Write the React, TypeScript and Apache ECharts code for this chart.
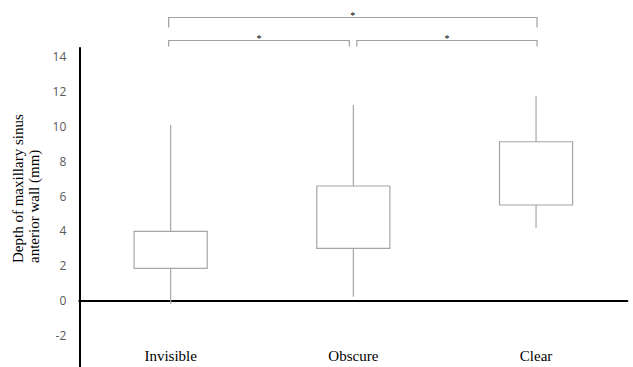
import React, { useEffect, useRef } from "react";
import * as echarts from "echarts";

const categories = ["Invisible", "Obscure", "Clear"];
const whiskerLow = [-0.19, 0.23, 4.19];
const boxLow = [1.86, 3.0, 5.49];
const boxHigh = [3.98, 6.58, 9.12];
const whiskerHigh = [10.08, 11.23, 11.74];

const yMin = -4;
const yMax = 14.5;
const yInterval = 2;

const bracketFrom = [0, 1, 0];
const bracketTo = [1, 2, 2];
const bracketLevel = [14.93, 14.93, 16.25];
const bracketLabel = ["*", "*", "*"];

const yAxisTitle = "Depth of maxillary sinus\nanterior wall (mm)";

export default function App() {
  const ref = useRef<HTMLDivElement>(null);

  useEffect(() => {
    if (!ref.current) return;
    const chart = echarts.init(ref.current, undefined, { renderer: "svg" });

    const boxData = categories.map((_, i) => [i, whiskerLow[i], boxLow[i], boxHigh[i], whiskerHigh[i]]);
    const bracketData = bracketFrom.map((f, i) => [f, bracketTo[i], bracketLevel[i], i]);

    const option: any = {
      animation: false,
      backgroundColor: "#ffffff",
      grid: { left: 79.3, right: 5.6, top: 48, bottom: 9.6, containLabel: false, outerBoundsMode: "none" },
      xAxis: [
        {
          type: "category",
          data: categories,
          boundaryGap: true,
          axisLine: { onZero: true, lineStyle: { color: "#000", width: 2 } },
          axisTick: { show: false },
          splitLine: { show: false },
          axisLabel: { show: false },
        },
        {
          type: "category",
          data: categories,
          position: "bottom",
          boundaryGap: true,
          axisLine: { show: false, onZero: false },
          axisTick: { show: false },
          splitLine: { show: false },
          axisLabel: {
            inside: true,
            margin: 7,
            color: "#000",
            fontFamily: "Liberation Serif",
            fontSize: 15,
          },
        },
      ],
      yAxis: {
        type: "value",
        min: yMin,
        max: yMax,
        interval: yInterval,
        axisLine: { show: true, onZero: false, lineStyle: { color: "#000", width: 2 } },
        axisTick: { show: false },
        splitLine: { show: false },
        axisLabel: {
          showMaxLabel: false,
          showMinLabel: false,
          margin: 13,
          color: "#595959",
          fontFamily: "Open Sans",
          fontSize: 12,
        },
      },
      graphic: [
        {
          type: "text",
          x: 9.5,
          y: 263,
          rotation: Math.PI / 2,
          style: {
            text: yAxisTitle,
            fontFamily: "Liberation Serif",
            fontSize: 15,
            lineHeight: 16,
            fill: "#000",
            align: "left",
            verticalAlign: "top",
          },
        },
      ],
      series: [
        {
          type: "custom",
          name: "box",
          xAxisIndex: 0,
          data: boxData,
          encode: { x: 0, y: [1, 2, 3, 4] },
          renderItem: (params: any, api: any) => {
            const idx = api.value(0);
            const pLow = api.coord([idx, api.value(1)]);
            const pQ1 = api.coord([idx, api.value(2)]);
            const pQ3 = api.coord([idx, api.value(3)]);
            const pHigh = api.coord([idx, api.value(4)]);
            const band = api.size([1, 0])[0];
            const w = band * 0.4;
            const cx = pLow[0];
            return {
              type: "group",
              children: [
                {
                  type: "line",
                  shape: { x1: cx, y1: pHigh[1], x2: cx, y2: pLow[1] },
                  style: { stroke: "#a6a6a6", lineWidth: 1.2 },
                },
                {
                  type: "rect",
                  shape: { x: cx - w / 2, y: pQ3[1], width: w, height: pQ1[1] - pQ3[1] },
                  style: { fill: "#ffffff", stroke: "#a6a6a6", lineWidth: 1.2 },
                },
              ],
            };
          },
        },
        {
          type: "custom",
          name: "brackets",
          xAxisIndex: 0,
          data: bracketData,
          clip: false,
          encode: { x: [0, 1], y: 2 },
          renderItem: (params: any, api: any) => {
            const from = api.value(0);
            const to = api.value(1);
            const level = api.value(2);
            const me = api.value(3);
            const sharedStart = bracketTo.some((t, j) => j !== me && t === from && bracketLevel[j] === level);
            const sharedEnd = bracketFrom.some((f, j) => j !== me && f === to && bracketLevel[j] === level);
            const a = api.coord([from, level]);
            const b = api.coord([to, level]);
            const x1 = a[0] + (sharedStart ? 3.5 : -2);
            const x2 = b[0] + (sharedEnd ? -4 : 1);
            const y = a[1];
            const isTop = !bracketLevel.some((l) => l > level);
            const tick = isTop ? 10 : 6;
            return {
              type: "group",
              children: [
                {
                  type: "polyline",
                  shape: { points: [[x1, y + tick], [x1, y], [x2, y], [x2, y + tick]] },
                  style: { stroke: "#a0a0a0", lineWidth: 1.2, fill: "none" },
                },
                {
                  type: "text",
                  x: (x1 + x2) / 2,
                  y: y - 2,
                  style: {
                    text: bracketLabel[me],
                    fontFamily: "Liberation Serif",
                    fontSize: 10,
                    fill: "#000",
                    align: "center",
                    verticalAlign: "middle",
                  },
                },
              ],
            };
          },
        },
      ],
    };

    chart.setOption(option);
    return () => chart.dispose();
  }, []);

  return (
    <div style={{ position: "fixed", left: 0, top: 0, width: 633, height: 367, overflow: "hidden", background: "#fff" }}>
      <div ref={ref} style={{ width: 633, height: 380 }} />
    </div>
  );
}
